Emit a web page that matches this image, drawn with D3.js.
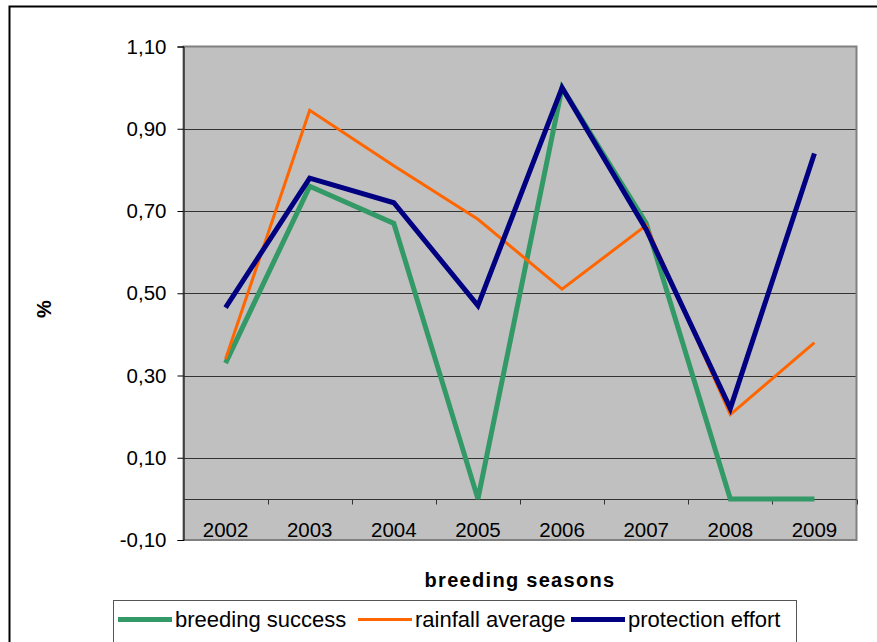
<!DOCTYPE html>
<html>
<head>
<meta charset="utf-8">
<script src="https://cdn.jsdelivr.net/npm/d3@7"></script>
<style>
  body { margin: 0; background: #fff; }
  svg { display: block; font-family: "Liberation Sans", Arial, sans-serif; }
</style>
</head>
<body>
<div id="container"></div>
<script>
// data
let seasons = ["2002", "2003", "2004", "2005", "2006", "2007", "2008", "2009"];
let breedingSuccess = [0.33, 0.76, 0.67, 0.00, 1.00, 0.67, 0.00, 0.00];
let rainfallAverage = [0.34, 0.945, 0.81, 0.68, 0.51, 0.665, 0.205, 0.38];
let protectionEffort = [0.465, 0.78, 0.72, 0.47, 1.00, 0.655, 0.22, 0.84];
let yTicks = [-0.10, 0.10, 0.30, 0.50, 0.70, 0.90, 1.10];

let seriesNames = ["breeding success", "rainfall average", "protection effort"];
let seriesColors = ["#339966", "#FF6600", "#000080"];
let seriesWidths = [5, 3, 5];
let seriesValues = [breedingSuccess, rainfallAverage, protectionEffort];

let w = 877;
let h = 642;
let plotLeft = 183.5, plotRight = 856.5, plotTop = 46.5, plotBottom = 540;

let viz = d3.select("#container")
  .append("svg")
    .attr("width", w)
    .attr("height", h);

// outer chart border
viz.append("rect")
  .attr("x", 9.5).attr("y", 6.5)
  .attr("width", w + 20).attr("height", h + 20)
  .attr("fill", "white")
  .attr("stroke", "#000")
  .attr("stroke-width", 2);

let xScale = d3.scaleBand().domain(seasons).range([plotLeft, plotRight]);
let yScale = d3.scaleLinear().domain([-0.10, 1.10]).range([plotBottom, plotTop]);

// plot area
viz.append("rect")
  .attr("x", plotLeft).attr("y", plotTop)
  .attr("width", plotRight - plotLeft).attr("height", plotBottom - plotTop)
  .attr("fill", "#C0C0C0");

// gridlines
viz.append("g")
  .selectAll("line")
  .data(yTicks.filter(d => d > -0.1 && d < 1.1))
  .enter().append("line")
    .attr("x1", plotLeft).attr("x2", plotRight)
    .attr("y1", d => Math.round(yScale(d)) + 0.5)
    .attr("y2", d => Math.round(yScale(d)) + 0.5)
    .attr("stroke", "#333")
    .attr("stroke-width", 1);

// plot area border
viz.append("rect")
  .attr("x", plotLeft).attr("y", plotTop)
  .attr("width", plotRight - plotLeft).attr("height", plotBottom - plotTop)
  .attr("fill", "none")
  .attr("stroke", "#808080")
  .attr("stroke-width", 2);

// y axis
let yAxis = d3.axisLeft(yScale)
  .tickValues(yTicks)
  .tickSize(6)
  .tickFormat(d => d3.format(".2f")(d).replace(".", ",").replace("−", "-"));
let yAxisGroup = viz.append("g")
  .attr("transform", "translate(" + plotLeft + ",0)")
  .call(yAxis);
yAxisGroup.select(".domain").attr("stroke", "#000");
yAxisGroup.selectAll(".tick line").attr("stroke", "#000");
yAxisGroup.selectAll("text")
  .attr("font-size", 20.5)
  .attr("font-family", "Liberation Sans, Arial, sans-serif")
  .attr("fill", "#000")
  .attr("x", -17);

// zero line (category axis)
let y0 = Math.round(yScale(0)) + 0.5;
viz.append("line")
  .attr("x1", plotLeft).attr("x2", plotRight)
  .attr("y1", y0).attr("y2", y0)
  .attr("stroke", "#333");

let boundaries = seasons.map(s => xScale(s)).concat([plotRight]);
viz.append("g")
  .selectAll("line")
  .data(boundaries.slice(1))
  .enter().append("line")
    .attr("x1", d => Math.round(d) + 0.5).attr("x2", d => Math.round(d) + 0.5)
    .attr("y1", y0).attr("y2", y0 + 5)
    .attr("stroke", "#333");

viz.append("g")
  .selectAll("text")
  .data(seasons)
  .enter().append("text")
    .text(d => d)
    .attr("x", d => xScale(d) + xScale.bandwidth() / 2)
    .attr("y", 537)
    .attr("text-anchor", "middle")
    .attr("font-size", 20.5)
    .attr("fill", "#000");

// series lines
let line = d3.line()
  .x((d, i) => xScale(seasons[i]) + xScale.bandwidth() / 2)
  .y(d => yScale(d));

for (let i = 0; i < seriesValues.length; i++) {
  viz.append("path")
    .attr("d", line(seriesValues[i]))
    .attr("fill", "none")
    .attr("stroke", seriesColors[i])
    .attr("stroke-width", seriesWidths[i])
    .attr("stroke-linejoin", "miter");
}

// axis titles
viz.append("text")
  .text("breeding seasons")
  .attr("x", 520).attr("y", 587)
  .attr("text-anchor", "middle")
  .attr("font-size", 20)
  .attr("font-weight", "bold")
  .attr("letter-spacing", 1.3);

viz.append("text")
  .text("%")
  .attr("transform", "translate(51, 309) rotate(-90)")
  .attr("text-anchor", "middle")
  .attr("font-size", 20)
  .attr("font-weight", "bold");

// legend
viz.append("rect")
  .attr("x", 113.5).attr("y", 600.5)
  .attr("width", 683).attr("height", 60)
  .attr("fill", "white")
  .attr("stroke", "#555")
  .attr("stroke-width", 1);

let legendX = [118, 358, 571];
for (let i = 0; i < seriesNames.length; i++) {
  viz.append("line")
    .attr("x1", legendX[i]).attr("x2", legendX[i] + 54)
    .attr("y1", 619.5).attr("y2", 619.5)
    .attr("stroke", seriesColors[i])
    .attr("stroke-width", seriesWidths[i]);
  viz.append("text")
    .text(seriesNames[i])
    .attr("x", legendX[i] + 57)
    .attr("y", 627)
    .attr("font-size", 22)
    .attr("fill", "#000");
}
</script>
</body>
</html>
